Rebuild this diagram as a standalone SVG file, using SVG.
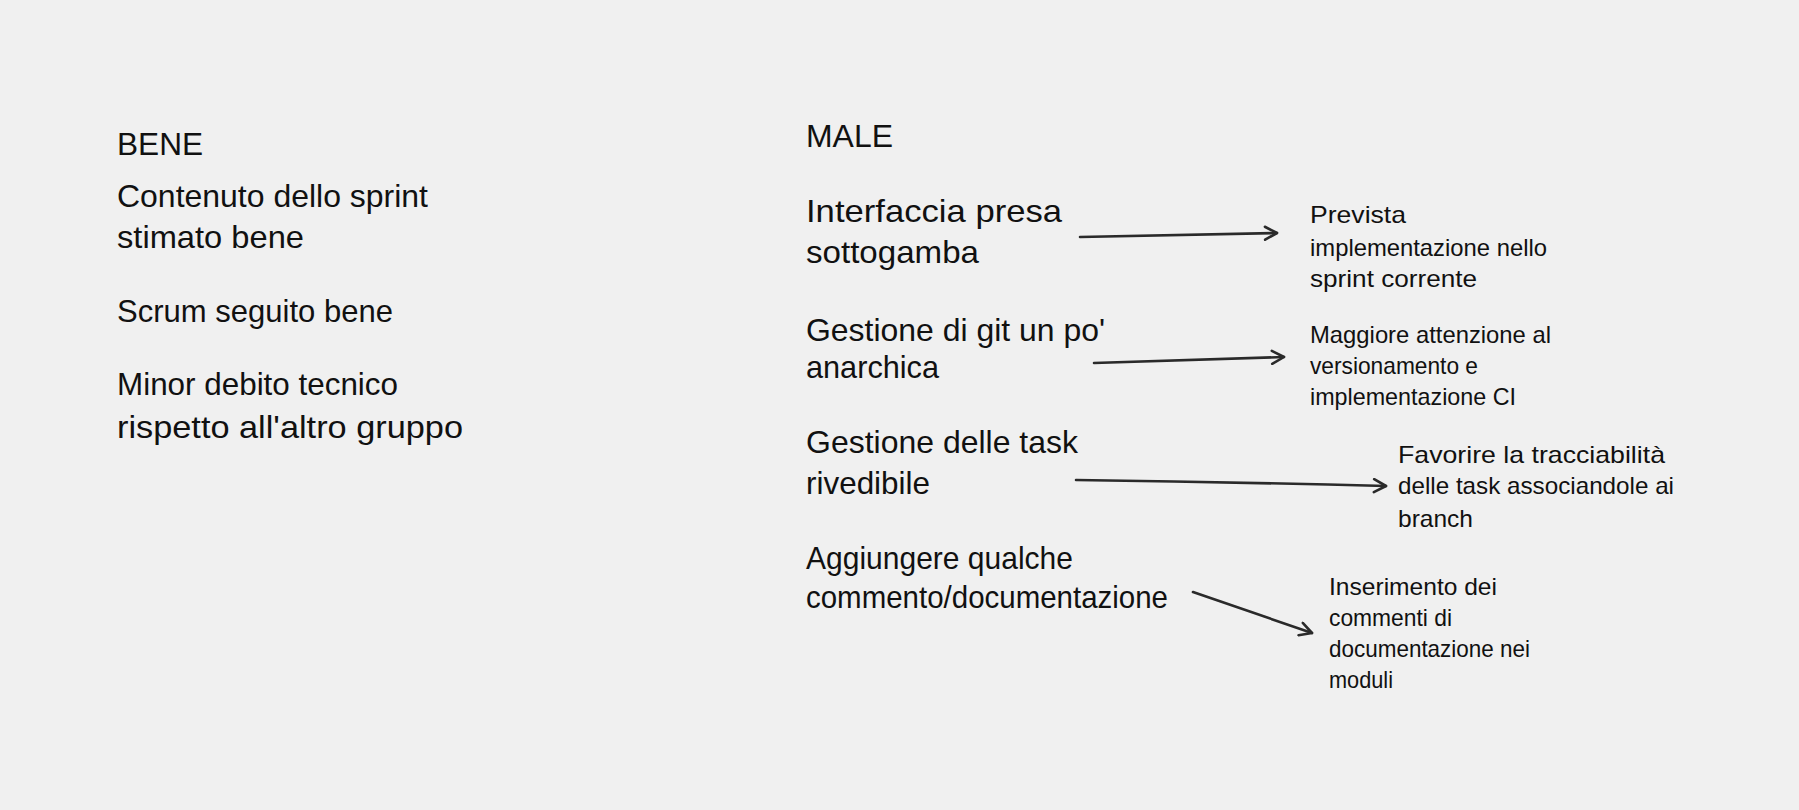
<svg xmlns="http://www.w3.org/2000/svg" width="1799" height="810" viewBox="0 0 1799 810">
<style>
.t{font-family:"Liberation Sans",Arial,sans-serif;fill:#111111}
.l{font-size:32px}
.s{font-size:24px}
.c{fill:none;stroke:#2a2a2a;stroke-width:2.6;stroke-linecap:round}
</style>
<defs>
<marker id="ah" markerWidth="16" markerHeight="16" refX="14" refY="8" orient="auto" markerUnits="userSpaceOnUse" viewBox="0 0 16 16">
<path d="M2 1.5 L14 8 L2 14.5" fill="none" stroke="#2a2a2a" stroke-width="2.6" stroke-linecap="round" stroke-linejoin="round"/>
</marker>
</defs>
<rect width="1799" height="810" fill="#f0f0f0"/>

<g id="bene" class="t l">
<text x="117" y="155" textLength="86" lengthAdjust="spacingAndGlyphs">BENE</text>
</g>
<g id="bene-1" class="t l">
<text x="117" y="207" textLength="311" lengthAdjust="spacingAndGlyphs">Contenuto dello sprint</text>
<text x="117" y="248" textLength="187" lengthAdjust="spacingAndGlyphs">stimato bene</text>
</g>
<g id="bene-2" class="t l">
<text x="117" y="322" textLength="276" lengthAdjust="spacingAndGlyphs">Scrum seguito bene</text>
</g>
<g id="bene-3" class="t l">
<text x="117" y="395" textLength="281" lengthAdjust="spacingAndGlyphs">Minor debito tecnico</text>
<text x="117" y="438" textLength="346" lengthAdjust="spacingAndGlyphs">rispetto all'altro gruppo</text>
</g>

<g id="male" class="t l">
<text x="806" y="147" textLength="87" lengthAdjust="spacingAndGlyphs">MALE</text>
</g>
<g id="male-1" class="t l">
<text x="806" y="222" textLength="256" lengthAdjust="spacingAndGlyphs">Interfaccia presa</text>
<text x="806" y="263" textLength="173" lengthAdjust="spacingAndGlyphs">sottogamba</text>
</g>
<g id="male-2" class="t l">
<text x="806" y="341" textLength="299" lengthAdjust="spacingAndGlyphs">Gestione di git un po'</text>
<text x="806" y="378" textLength="133" lengthAdjust="spacingAndGlyphs">anarchica</text>
</g>
<g id="male-3" class="t l">
<text x="806" y="453" textLength="272" lengthAdjust="spacingAndGlyphs">Gestione delle task</text>
<text x="806" y="494" textLength="124" lengthAdjust="spacingAndGlyphs">rivedibile</text>
</g>
<g id="male-4" class="t l">
<text x="806" y="569" textLength="267" lengthAdjust="spacingAndGlyphs">Aggiungere qualche</text>
<text x="806" y="608" textLength="362" lengthAdjust="spacingAndGlyphs">commento/documentazione</text>
</g>

<g id="azione-1" class="t s">
<text x="1310" y="223" textLength="96" lengthAdjust="spacingAndGlyphs">Prevista</text>
<text x="1310" y="256" textLength="237" lengthAdjust="spacingAndGlyphs">implementazione nello</text>
<text x="1310" y="287" textLength="167" lengthAdjust="spacingAndGlyphs">sprint corrente</text>
</g>
<g id="azione-2" class="t s">
<text x="1310" y="343" textLength="241" lengthAdjust="spacingAndGlyphs">Maggiore attenzione al</text>
<text x="1310" y="374" textLength="168" lengthAdjust="spacingAndGlyphs">versionamento e</text>
<text x="1310" y="405" textLength="206" lengthAdjust="spacingAndGlyphs">implementazione CI</text>
</g>
<g id="azione-3" class="t s">
<text x="1398" y="463" textLength="267" lengthAdjust="spacingAndGlyphs">Favorire la tracciabilità</text>
<text x="1398" y="494" textLength="276" lengthAdjust="spacingAndGlyphs">delle task associandole ai</text>
<text x="1398" y="527" textLength="75" lengthAdjust="spacingAndGlyphs">branch</text>
</g>
<g id="azione-4" class="t s">
<text x="1329" y="595" textLength="168" lengthAdjust="spacingAndGlyphs">Inserimento dei</text>
<text x="1329" y="626" textLength="123" lengthAdjust="spacingAndGlyphs">commenti di</text>
<text x="1329" y="657" textLength="201" lengthAdjust="spacingAndGlyphs">documentazione nei</text>
<text x="1329" y="688" textLength="64" lengthAdjust="spacingAndGlyphs">moduli</text>
</g>

<g id="connectors">
<path class="c" d="M1080 237 L1277 233" marker-end="url(#ah)"/>
<path class="c" d="M1094 363 L1284 357" marker-end="url(#ah)"/>
<path class="c" d="M1076 480 Q1230 482 1386 486" marker-end="url(#ah)"/>
<path class="c" d="M1193 592 L1312 633" marker-end="url(#ah)"/>
</g>
</svg>
